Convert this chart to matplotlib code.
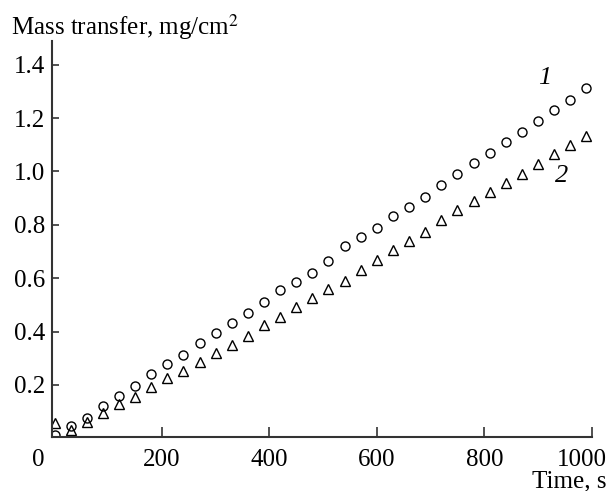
import numpy as np
import matplotlib
matplotlib.use("Agg")
import matplotlib.pyplot as plt
import matplotlib.transforms as mtransforms

plt.rcParams['font.family'] = ['Liberation Serif', 'DejaVu Serif']
plt.rcParams['mathtext.fontset'] = 'stix'

# time, s
time = [0, 30, 60, 90, 120, 150, 180, 210, 240, 270, 300, 330, 360, 390, 420, 450,
        480, 510, 540, 570, 600, 630, 660, 690, 720, 750, 780, 810, 840, 870, 900,
        930, 960, 990]
# curve 1 (circles)
mass1 = [0.012, 0.046, 0.075, 0.121, 0.158, 0.197, 0.240, 0.280, 0.313, 0.356, 0.394,
         0.434, 0.471, 0.510, 0.555, 0.585, 0.621, 0.666, 0.719, 0.753, 0.790, 0.832,
         0.868, 0.904, 0.949, 0.991, 1.032, 1.071, 1.109, 1.148, 1.188, 1.229, 1.268,
         1.312]
# curve 2 (triangles)
mass2 = [0.056, 0.031, 0.060, 0.094, 0.128, 0.154, 0.194, 0.225, 0.254, 0.287, 0.319,
         0.350, 0.384, 0.424, 0.454, 0.492, 0.525, 0.559, 0.591, 0.632, 0.669, 0.705,
         0.741, 0.773, 0.817, 0.854, 0.888, 0.923, 0.957, 0.992, 1.029, 1.067, 1.101,
         1.134]

xticks = [200, 400, 600, 800, 1000]
yticks = [0.2, 0.4, 0.6, 0.8, 1.0, 1.2, 1.4]

fig = plt.figure(figsize=(6.1, 4.91), dpi=100)
ax = fig.add_axes([0.085, 0.110, 0.885, 0.807])

ax.plot(time, mass1, 'o', ms=6.5, mfc='none', mec='black', mew=1.0)
ax.plot(time, mass2, '^', ms=6.5, mfc='none', mec='black', mew=1.0)

ax.set_xlim(-5, 1000)
ax.set_ylim(0.005, 1.49)
ax.set_xticks(xticks)
ax.set_yticks(yticks)
ax.set_yticklabels(['%.1f' % v for v in yticks])

ax.spines['top'].set_visible(False)
ax.spines['right'].set_visible(False)
for s in ['left', 'bottom']:
    ax.spines[s].set_linewidth(1.5)
    ax.spines[s].set_color('#333333')
ax.tick_params(axis='x', direction='in', length=7, width=1.2, labelsize=18, pad=9, color='#333333')
ax.tick_params(axis='y', direction='in', length=5, width=1.2, labelsize=18, pad=5, color='#333333')

# shift the last x tick label left so it stays inside the figure
last = ax.get_xticklabels()[-1]
last.set_transform(last.get_transform() + mtransforms.ScaledTranslation(-10 / 100, 0, fig.dpi_scale_trans))

# origin label and axis titles
fig.text(0.062, 0.063, '0', fontsize=18, ha='center', va='center')
fig.text(0.018, 0.945, 'Mass transfer, mg/cm$^2$', fontsize=18, ha='left', va='center')
fig.text(0.994, 0.008, 'Time, s', fontsize=18, ha='right', va='baseline')

ax.text(913, 1.352, '1', fontsize=19, style='italic', ha='center', va='center')
ax.text(944, 0.984, '2', fontsize=19, style='italic', ha='center', va='center')

fig.savefig('out.png', dpi=100)
